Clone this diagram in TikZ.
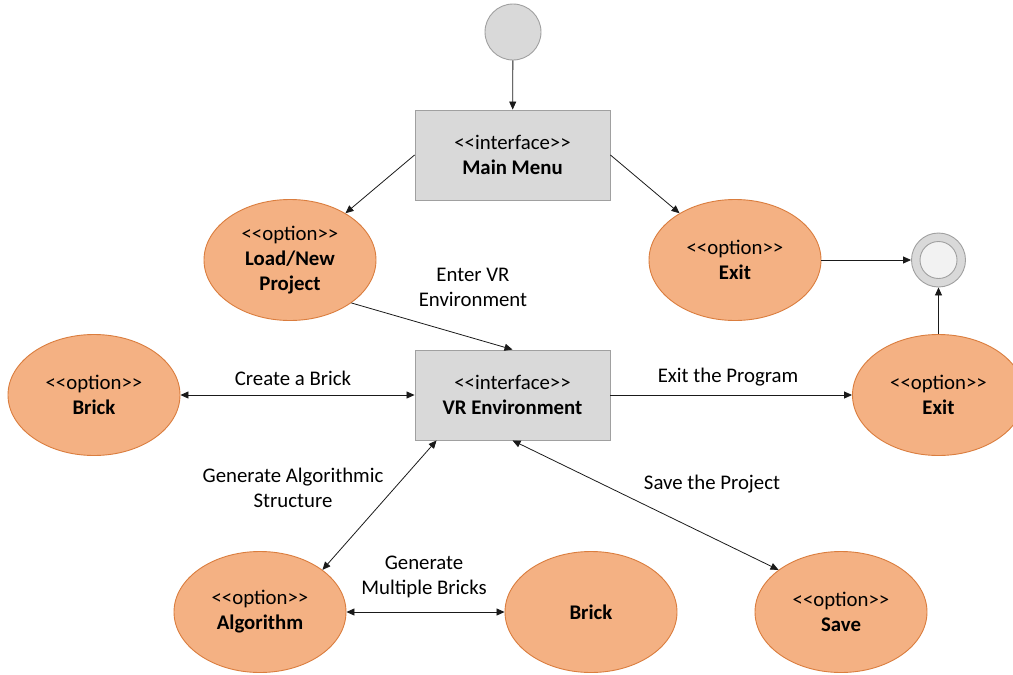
\documentclass[tikz,border=0pt]{standalone}
\usepackage{fontspec}
\setmainfont{Carlito}
\usetikzlibrary{arrows.meta,shapes.geometric}
\definecolor{ofill}{HTML}{F4B183}
\definecolor{oline}{HTML}{DA7D3E}
\definecolor{gfill}{HTML}{D9D9D9}
\definecolor{gline}{HTML}{A0A0A0}
\definecolor{wfill}{HTML}{F2F2F2}
\definecolor{arr}{HTML}{1A1A1A}
\newcommand{\stereo}[1]{<{}<#1>{}>}
\tikzset{
  opt/.style={ellipse, draw=oline, line width=0.9pt, fill=ofill, minimum width=172, minimum height=121, inner sep=0pt, align=center},
  iface/.style={rectangle, draw=gline, line width=0.9pt, fill=gfill, minimum width=195, minimum height=90, align=center},
  tip/.tip={Triangle[length=8pt,width=7pt]},
  con/.style={-tip, draw=arr, line width=0.8pt},
  bicon/.style={tip-tip, draw=arr, line width=0.8pt},
  lbl/.style={align=center, inner sep=0pt}
}
\begin{document}
\begin{tikzpicture}[x=1pt,y=-1pt,font=\fontsize{20.8}{25}\selectfont]
\useasboundingbox (0,0) rectangle (1013,675);
\clip (0,0) rectangle (1013,675);
% start / end
\node[circle, draw=gline, line width=0.9pt, fill=gfill, minimum size=56, inner sep=0pt] (start) at (513,32) {};
\node[circle, draw=gline, line width=0.9pt, fill=gfill, minimum size=54, inner sep=0pt] (end) at (938.5,260) {};
\node[circle, draw=gline, line width=0.9pt, fill=wfill, minimum size=37, inner sep=0pt] (endin) at (938.5,260) {};
% interfaces
\node[iface] (main) at (512.5,155) {\stereo{interface}\\\textbf{Main Menu}};
\node[iface] (vr) at (512.5,395) {\stereo{interface}\\\textbf{VR Environment}};
% options
\node[opt] (load) at (290,260) {\stereo{option}\\\textbf{Load/New}\\\textbf{Project}};
\node[opt] (exitA) at (735,260) {\stereo{option}\\\textbf{Exit}};
\node[opt] (brickL) at (94,395) {\stereo{option}\\\textbf{Brick}};
\node[opt] (exitB) at (938.5,395) {\stereo{option}\\\textbf{Exit}};
\node[opt] (algo) at (260,612) {\stereo{option}\\\textbf{Algorithm}};
\node[opt] (brickB) at (591,612) {\textbf{Brick}};
\node[opt] (save) at (841,612) {\stereo{option}\\\textbf{Save}};
% connectors
\draw[con] (start) -- (main);
\draw[con] (main.west) -- (load);
\draw[con] (main.east) -- (exitA);
\draw[con] (load.-35) -- (vr.north);
\draw[bicon] (brickL.east) -- (vr.west);
\draw[con] (vr.east) -- (exitB.west);
\draw[con] (exitA.east) -- (end.west);
\draw[con] (exitB.north) -- (end.south);
\draw[bicon] ([xshift=22pt]vr.south west) -- (algo.34);
\draw[bicon] (vr.south) -- (save.146);
\draw[bicon] (algo.east) -- (brickB.west);
% labels
\node[lbl] (l1) at (473,287) {Enter VR\\Environment};
\node[lbl] (l2) at (293,378) {Create a Brick};
\node[lbl] (l3) at (728,377) {Exit the Program};
\node[lbl] (l4) at (293,488) {Generate Algorithmic\\Structure};
\node[lbl] (l5) at (712,484) {Save the Project};
\node[lbl] (l6) at (424,577) {Generate\\Multiple Bricks};
\end{tikzpicture}
\end{document}
